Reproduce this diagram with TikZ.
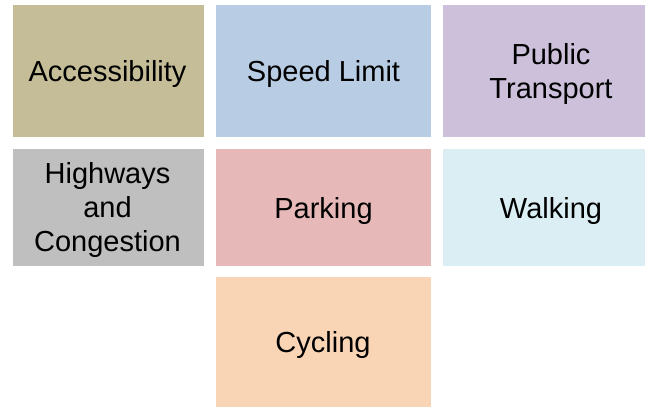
\documentclass[tikz,border=0pt]{standalone}
\usepackage{fontspec}
\setmainfont{Liberation Sans}
\definecolor{cAcc}{HTML}{C4BD97}
\definecolor{cSpeed}{HTML}{B8CCE4}
\definecolor{cPub}{HTML}{CCC0DA}
\definecolor{cHigh}{HTML}{BFBFBF}
\definecolor{cPark}{HTML}{E6B9B8}
\definecolor{cWalk}{HTML}{DBEEF4}
\definecolor{cCyc}{HTML}{FAD5B5}
\tikzset{
  tile/.style={inner sep=0pt, outer sep=0pt, align=center, text=black,
    font=\fontsize{29bp}{34bp}\selectfont}
}
\begin{document}
\begin{tikzpicture}[x=1bp,y=-1bp]
\useasboundingbox (0,0) rectangle (645,407);
% row 1
\fill[cAcc] (13,5) rectangle (204,137);
\node[tile] (acc) at (107.5,74) {Accessibility};
\fill[cSpeed] (216,5) rectangle (431,137);
\node[tile] (speed) at (323.5,74) {Speed Limit};
\fill[cPub] (443,5) rectangle (645,137);
\node[tile] (pub) at (551,74) {Public\\Transport};
% row 2
\fill[cHigh] (13,149) rectangle (204,266);
\node[tile] (high) at (107.5,210) {Highways\\and\\Congestion};
\fill[cPark] (216,149) rectangle (431,266);
\node[tile] (park) at (323.5,210.5) {Parking};
\fill[cWalk] (443,149) rectangle (645,266);
\node[tile] (walk) at (551,210.5) {Walking};
% row 3
\fill[cCyc] (216,277) rectangle (431,407);
\node[tile] (cyc) at (323,345) {Cycling};
\end{tikzpicture}
\end{document}
